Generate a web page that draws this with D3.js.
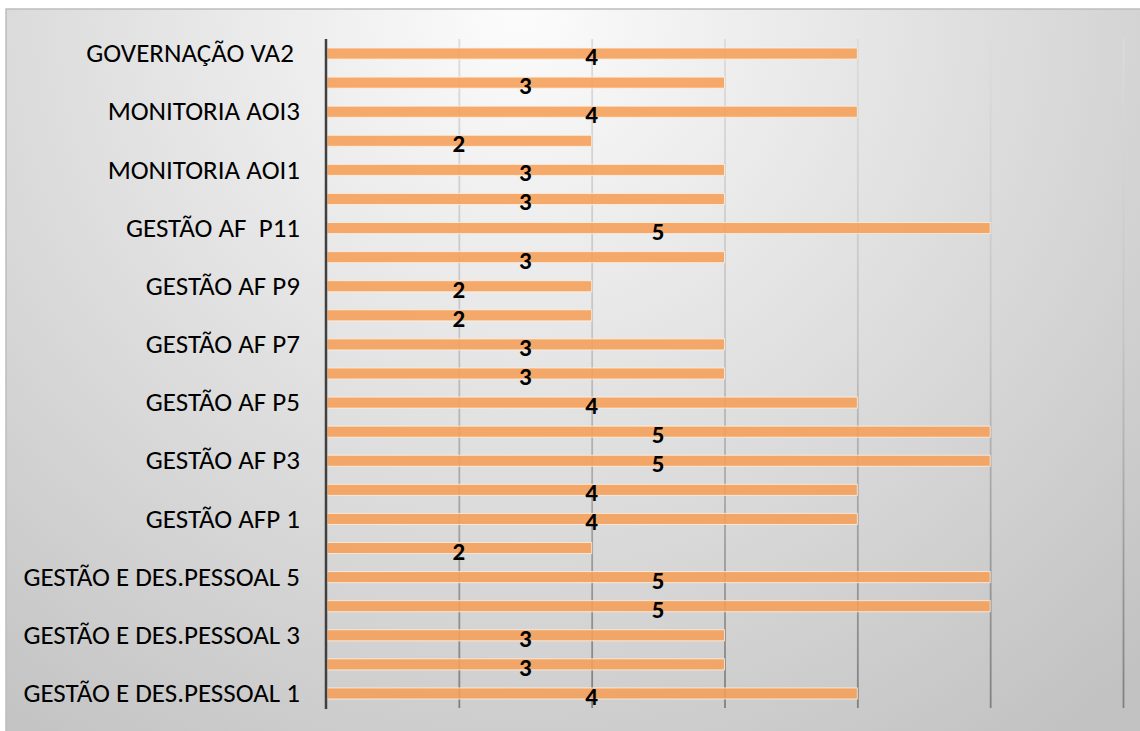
<!DOCTYPE html>
<html>
<head>
<meta charset="utf-8">
<script src="https://cdn.jsdelivr.net/npm/d3@7"></script>
<style>
  html, body { margin: 0; padding: 0; background: #ffffff; overflow: hidden; }
  svg { display: block; }
</style>
</head>
<body>
<div id="chart"></div>
<script>
// ---- DATA (bottom-to-top order, as in the source sheet) ----
const categories = [
  "GESTÃO E DES.PESSOAL 1", "GESTÃO E DES.PESSOAL 2", "GESTÃO E DES.PESSOAL 3",
  "GESTÃO E DES.PESSOAL 4", "GESTÃO E DES.PESSOAL 5", "GESTÃO E DES.PESSOAL 6",
  "GESTÃO AFP 1", "GESTÃO AF P2", "GESTÃO AF P3", "GESTÃO AF P4", "GESTÃO AF P5",
  "GESTÃO AF P6", "GESTÃO AF P7", "GESTÃO AF P8", "GESTÃO AF P9", "GESTÃO AF P10",
  "GESTÃO AF  P11", "GESTÃO AF P12", "MONITORIA AOI1", "MONITORIA AOI2",
  "MONITORIA AOI3", "GOVERNAÇÃO VA1", "GOVERNAÇÃO VA2 "
];
const values = [4, 3, 3, 5, 5, 2, 4, 4, 5, 5, 4, 3, 3, 2, 2, 3, 5, 3, 3, 2, 4, 3, 4];
// category labels that are displayed (every other one)
const shownLabels = [
  "GESTÃO E DES.PESSOAL 1", "GESTÃO E DES.PESSOAL 3", "GESTÃO E DES.PESSOAL 5",
  "GESTÃO AFP 1", "GESTÃO AF P3", "GESTÃO AF P5", "GESTÃO AF P7", "GESTÃO AF P9",
  "GESTÃO AF  P11", "MONITORIA AOI1", "MONITORIA AOI3", "GOVERNAÇÃO VA2 "
];
const xTicks = [0, 1, 2, 3, 4, 5, 6];
const xMax = 6;

// ---- LAYOUT ----
const W = 1140, H = 731;
const plot = { left: 326, top: 39, right: 1123, bottom: 708 };
const plotH = plot.bottom - plot.top;

const svg = d3.select("#chart").append("svg").attr("width", W).attr("height", H);
const defs = svg.append("defs");

const bg = defs.append("radialGradient").attr("id", "bgGrad")
  .attr("gradientUnits", "userSpaceOnUse")
  .attr("cx", 520).attr("cy", 10).attr("r", 900);
bg.append("stop").attr("offset", "0").attr("stop-color", "#fcfcfc");
bg.append("stop").attr("offset", "0.55").attr("stop-color", "#dcdcdc");
bg.append("stop").attr("offset", "1").attr("stop-color", "#c2c2c2");

// gradient for gridlines, in the tick's local coordinates (y from -plotH to 0)
const gg = defs.append("linearGradient").attr("id", "gridGrad")
  .attr("gradientUnits", "userSpaceOnUse")
  .attr("x1", 0).attr("y1", -plotH).attr("x2", 0).attr("y2", 0);
gg.append("stop").attr("offset", "0").attr("stop-color", "#dcdcdc");
gg.append("stop").attr("offset", "0.45").attr("stop-color", "#c4c4c4");
gg.append("stop").attr("offset", "1").attr("stop-color", "#808080");

// chart area background + frame
svg.append("rect").attr("x", 6).attr("y", 9).attr("width", W + 20).attr("height", H + 20)
  .attr("fill", "url(#bgGrad)").attr("stroke", "#bdbdbd").attr("stroke-width", 1.5);

const x = d3.scaleLinear().domain([0, xMax]).range([plot.left, plot.right]);
const y = d3.scaleBand().domain(categories.slice().reverse())
  .range([plot.top, plot.bottom]).paddingInner(0.62).paddingOuter(0.31);

// gridlines via x axis
const gx = svg.append("g").attr("transform", `translate(0,${plot.bottom})`)
  .call(d3.axisBottom(x).tickValues(xTicks.filter(t => t > 0))
    .tickSize(-plotH).tickFormat(""));
gx.select(".domain").remove();
gx.selectAll(".tick line").attr("stroke", "url(#gridGrad)").attr("stroke-width", 1.8);

// bars
svg.append("g").selectAll("rect").data(categories).join("rect")
  .attr("x", x(0) + 1)
  .attr("y", d => y(d))
  .attr("width", (d, i) => x(values[i]) - x(0) - 1)
  .attr("height", y.bandwidth())
  .attr("fill", "rgb(245,158,88)")
  .attr("fill-opacity", 0.88)
  .attr("stroke", "rgba(255,240,225,0.8)")
  .attr("stroke-width", 1);

// value labels
svg.append("g").selectAll("text").data(categories).join("text")
  .attr("x", (d, i) => x(values[i] / 2))
  .attr("y", d => y(d) + y.bandwidth() / 2 + 3)
  .attr("text-anchor", "middle")
  .attr("dominant-baseline", "central")
  .attr("font-family", "Carlito, 'Open Sans', sans-serif")
  .attr("font-weight", "bold")
  .attr("font-size", 25)
  .attr("fill", "#000")
  .text((d, i) => values[i]);

// y axis with category labels
const gy = svg.append("g").attr("transform", `translate(${plot.left},0)`)
  .call(d3.axisLeft(y).tickValues(shownLabels).tickSize(0).tickPadding(26));
gy.select(".domain").remove();
gy.selectAll(".tick text")
  .attr("font-family", "Carlito, 'Open Sans', sans-serif")
  .attr("font-size", 27)
  .attr("fill", "#000")
  .style("white-space", "pre");

// axis line
svg.append("line").attr("x1", plot.left).attr("x2", plot.left)
  .attr("y1", plot.top).attr("y2", plot.bottom + 1)
  .attr("stroke", "#404040").attr("stroke-width", 2.5);
</script>
</body>
</html>
